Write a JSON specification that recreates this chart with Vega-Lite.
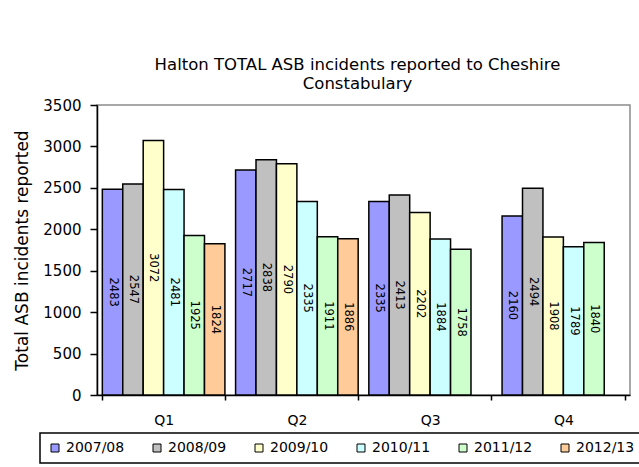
{
  "$schema": "https://vega.github.io/schema/vega-lite/v6.json",
  "autosize": {"type": "none"},
  "width": 533,
  "height": 290,
  "padding": {"left": 97, "top": 105, "right": 9, "bottom": 72},
  "background": "white",
  "title": {
    "text": ["Halton TOTAL ASB incidents reported to Cheshire", "Constabulary"],
    "anchor": "middle",
    "frame": "group",
    "dx": -6,
    "offset": 6,
    "font": "DejaVu Sans",
    "fontSize": 16.5,
    "fontWeight": "normal",
    "lineHeight": 19,
    "color": "black"
  },
  "data": {
    "values": [
      {"quarter": "Q1", "year": "2007/08", "incidents": 2483},
      {"quarter": "Q1", "year": "2008/09", "incidents": 2547},
      {"quarter": "Q1", "year": "2009/10", "incidents": 3072},
      {"quarter": "Q1", "year": "2010/11", "incidents": 2481},
      {"quarter": "Q1", "year": "2011/12", "incidents": 1925},
      {"quarter": "Q1", "year": "2012/13", "incidents": 1824},
      {"quarter": "Q2", "year": "2007/08", "incidents": 2717},
      {"quarter": "Q2", "year": "2008/09", "incidents": 2838},
      {"quarter": "Q2", "year": "2009/10", "incidents": 2790},
      {"quarter": "Q2", "year": "2010/11", "incidents": 2335},
      {"quarter": "Q2", "year": "2011/12", "incidents": 1911},
      {"quarter": "Q2", "year": "2012/13", "incidents": 1886},
      {"quarter": "Q3", "year": "2007/08", "incidents": 2335},
      {"quarter": "Q3", "year": "2008/09", "incidents": 2413},
      {"quarter": "Q3", "year": "2009/10", "incidents": 2202},
      {"quarter": "Q3", "year": "2010/11", "incidents": 1884},
      {"quarter": "Q3", "year": "2011/12", "incidents": 1758},
      {"quarter": "Q4", "year": "2007/08", "incidents": 2160},
      {"quarter": "Q4", "year": "2008/09", "incidents": 2494},
      {"quarter": "Q4", "year": "2009/10", "incidents": 1908},
      {"quarter": "Q4", "year": "2010/11", "incidents": 1789},
      {"quarter": "Q4", "year": "2011/12", "incidents": 1840}
    ]
  },
  "encoding": {
    "x": {
      "field": "quarter",
      "type": "nominal",
      "scale": {"paddingInner": 0.08, "paddingOuter": 0.04},
      "axis": {
        "title": null,
        "labelAngle": 0,
        "tickBand": "extent",
        "tickSize": 5,
        "labelPadding": 13
      }
    },
    "xOffset": {
      "field": "year",
      "type": "nominal",
      "scale": {
        "domain": ["2007/08", "2008/09", "2009/10", "2010/11", "2011/12", "2012/13"],
        "paddingInner": 0,
        "paddingOuter": 0
      }
    },
    "y": {
      "field": "incidents",
      "type": "quantitative",
      "scale": {"domain": [0, 3500], "nice": false},
      "axis": {
        "title": "Total ASB incidents reported",
        "values": [0, 500, 1000, 1500, 2000, 2500, 3000, 3500],
        "format": "d",
        "grid": false,
        "tickSize": 7,
        "labelPadding": 9,
        "titleFontSize": 17,
        "titleAngle": 270,
        "titleX": -75,
        "titleY": 145,
        "titleAlign": "center",
        "titleBaseline": "middle"
      }
    }
  },
  "layer": [
    {
      "mark": {"type": "bar", "stroke": "black", "strokeWidth": 1.5},
      "encoding": {
        "fill": {
          "field": "year",
          "type": "nominal",
          "scale": {
            "domain": ["2007/08", "2008/09", "2009/10", "2010/11", "2011/12", "2012/13"],
            "range": ["#9999FF", "#C0C0C0", "#FFFFCC", "#CCFFFF", "#CCFFCC", "#FFCC99"]
          },
          "legend": {
            "title": null,
            "orient": "none",
            "legendX": -57,
            "legendY": 328,
            "direction": "horizontal",
            "columns": 6,
            "gridAlign": "all",
            "columnPadding": 25,
            "symbolType": "square",
            "symbolSize": 64,
            "symbolStrokeColor": "black",
            "symbolStrokeWidth": 1,
            "labelOffset": 4,
            "labelFontSize": 14,
            "padding": 8,
            "strokeColor": "black",
            "fillColor": "white"
          }
        }
      }
    },
    {
      "transform": [{"calculate": "datum.incidents / 2", "as": "labelMid"}],
      "mark": {
        "type": "text",
        "angle": 90,
        "align": "center",
        "baseline": "middle",
        "fontSize": 11.5,
        "color": "black"
      },
      "encoding": {
        "y": {"field": "labelMid", "type": "quantitative"},
        "text": {"field": "incidents", "type": "quantitative", "format": "d"}
      }
    }
  ],
  "config": {
    "font": "DejaVu Sans",
    "view": {"stroke": "#8c8c8c", "strokeWidth": 1.5, "fill": "white"},
    "axis": {
      "domainColor": "black",
      "domainWidth": 1.5,
      "tickColor": "black",
      "tickWidth": 1.5,
      "labelColor": "black",
      "titleColor": "black",
      "labelFont": "DejaVu Sans",
      "titleFont": "DejaVu Sans",
      "titleFontWeight": "normal",
      "labelFontSize": 14
    },
    "axisY": {"labelFontSize": 15},
    "legend": {"labelFont": "DejaVu Sans", "labelColor": "black", "strokeWidth": 1.5}
  }
}
